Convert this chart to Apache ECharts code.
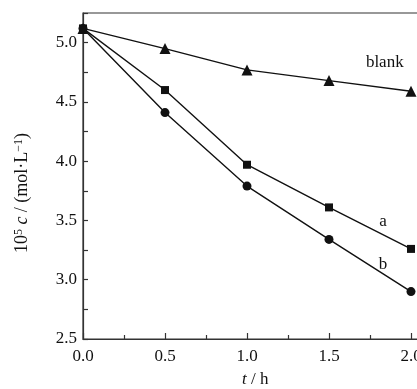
<!DOCTYPE html>
<html>
<head>
<meta charset="utf-8">
<script src="https://cdn.jsdelivr.net/npm/echarts@6/dist/echarts.min.js"></script>
<style>
  html, body { margin: 0; padding: 0; background: #fff; }
  #chart { width: 417px; height: 389px; }
</style>
</head>
<body>
<div id="chart"></div>
<script>
const times = [0, 0.5, 1.0, 1.5, 2.0]
const blank = [5.12, 4.95, 4.77, 4.68, 4.59]
const seriesA = [5.12, 4.60, 3.97, 3.61, 3.26]
const seriesB = [5.12, 4.41, 3.79, 3.34, 2.90]
// label anchors in data space [t, c]
const labelBlank = [1.84, 4.83]
const labelA = [1.83, 3.49]
const labelB = [1.83, 3.13]

const font = "'Liberation Serif', 'Times New Roman', serif"
const ink = '#111'

function pairs(ys) {
  return times.map((t, i) => [t, ys[i]])
}

function tag(text, coord) {
  return {
    symbol: 'circle',
    symbolSize: 1,
    itemStyle: { color: 'rgba(0,0,0,0)' },
    label: { show: true, formatter: text, color: ink, fontFamily: font, fontSize: 17, position: 'inside' },
    data: [{ coord }]
  }
}

function line(name, ys, symbol, size, txt, pos) {
  return {
    name,
    type: 'line',
    data: pairs(ys),
    symbol,
    symbolSize: size,
    itemStyle: { color: ink },
    lineStyle: { color: ink, width: 1.4 },
    markPoint: tag(txt, pos),
    z: symbol === 'circle' ? 3 : 2,
    animation: false
  }
}

const chart = echarts.init(document.getElementById('chart'))
chart.setOption({
  backgroundColor: '#fff',
  animation: false,
  // plot runs past the right edge (2.1), the picture is cropped there
  grid: {
    left: 83, width: 344.4, top: 13, bottom: 50,
    outerBoundsMode: 'none', containLabel: false,
    show: true, borderColor: '#333', borderWidth: 1.2, backgroundColor: 'transparent'
  },
  xAxis: {
    type: 'value',
    min: 0,
    max: 2.1,
    interval: 0.5,
    name: '{i|t} / h',
    nameLocation: 'middle',
    nameGap: 32,
    nameTextStyle: {
      color: ink, fontFamily: font, fontSize: 17,
      rich: { i: { fontStyle: 'italic', fontFamily: font, fontSize: 17, color: ink } }
    },
    axisLine: { lineStyle: { color: '#333', width: 1.2 } },
    axisTick: { inside: true, length: 6, lineStyle: { color: '#333', width: 1.2 } },
    minorTick: { show: true, splitNumber: 2, length: 4, lineStyle: { color: '#333', width: 1.2 } },
    axisLabel: { color: ink, fontFamily: font, fontSize: 17, margin: 9, showMaxLabel: false, formatter: v => v.toFixed(1) },
    splitLine: { show: false }
  },
  yAxis: {
    type: 'value',
    min: 2.5,
    max: 5.25,
    interval: 0.5,
    name: '10{sup|5} {i|c} / (mol·L{sup|−1})',
    nameLocation: 'middle',
    nameRotate: 90,
    nameGap: 52,
    nameTextStyle: {
      color: ink, fontFamily: font, fontSize: 18,
      padding: [0, 0, 0, -34],
      rich: {
        sup: { fontSize: 12, fontFamily: font, color: ink, verticalAlign: 'top', lineHeight: 15 },
        i: { fontStyle: 'italic', fontFamily: font, fontSize: 18, color: ink }
      }
    },
    axisLine: { show: true, lineStyle: { color: '#333', width: 1.2 } },
    axisTick: { inside: true, length: 5, lineStyle: { color: '#333', width: 1.2 } },
    minorTick: { show: true, splitNumber: 2, length: 5, lineStyle: { color: '#333', width: 1.2 } },
    axisLabel: { color: ink, fontFamily: font, fontSize: 17, margin: 6, showMaxLabel: false, formatter: v => v.toFixed(1) },
    splitLine: { show: false }
  },
  series: [
    line('blank', blank, 'triangle', 11, 'blank', labelBlank),
    line('a', seriesA, 'rect', 8, 'a', labelA),
    line('b', seriesB, 'circle', 9, 'b', labelB)
  ]
})
</script>
</body>
</html>
